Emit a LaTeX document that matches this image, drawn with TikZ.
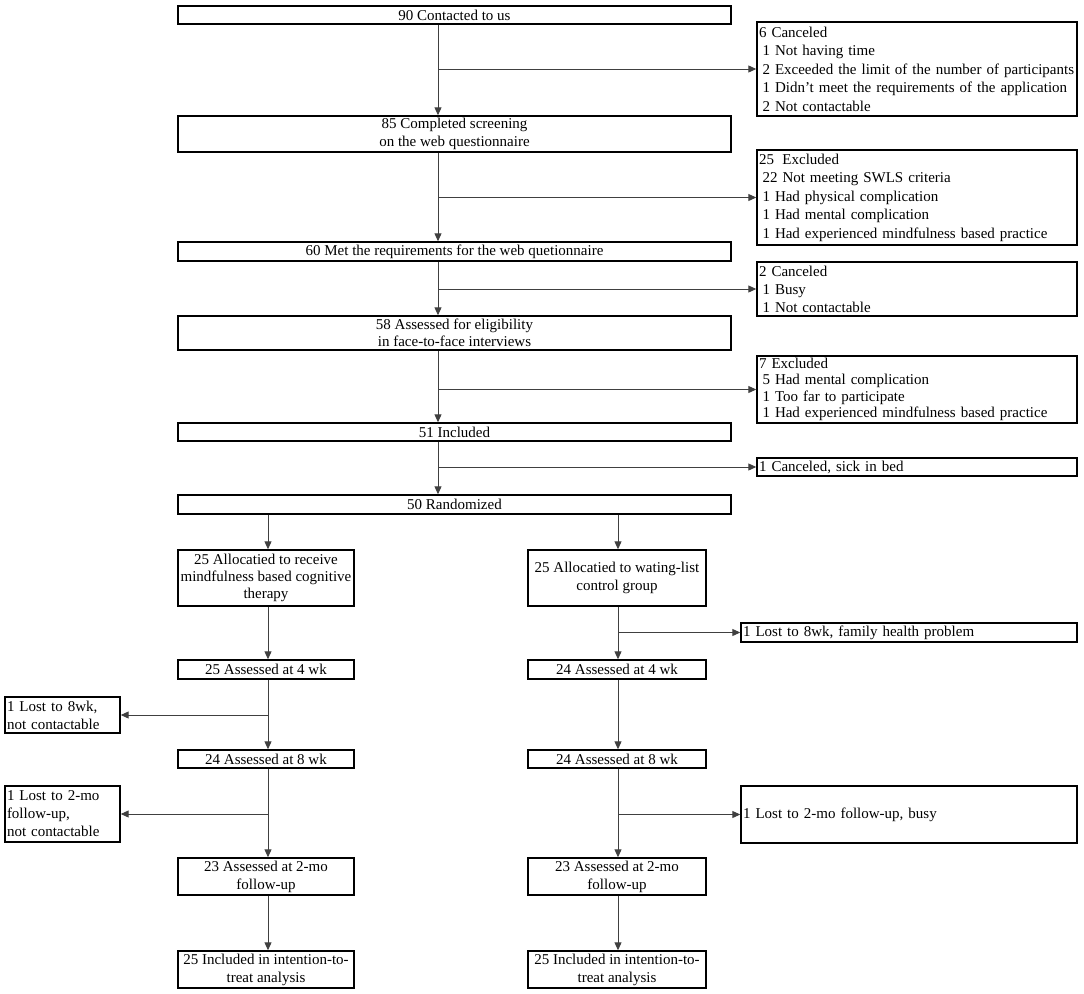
\documentclass[tikz,border=0pt]{standalone}
\usepackage{fontspec}
\setmainfont{Liberation Serif}
\usetikzlibrary{arrows.meta}
\tikzset{
  box/.style={draw, line width=1.4pt, inner sep=0pt, align=center, font=\fontsize{15}{18}\selectfont},
  lbox/.style={box, align=left, inner xsep=2pt, text width=#1},
  conn/.style={draw=black!75, line width=1pt, -{Triangle[length=8pt,width=7pt]}},
}
\begin{document}
\begin{tikzpicture}[x=1pt,y=-1pt]
\useasboundingbox (0,0) rectangle (1084,993);
\coordinate (sx) at (438,0);
\coordinate (lx) at (268,0);
\coordinate (rx) at (618,0);
% main column
\node[box, minimum width=553pt, minimum height=18pt] (b1) at (454.5,15) {90 Contacted to us};
\node[box, minimum width=553pt, minimum height=36pt] (b2) at (454.5,134) {85 Completed screening\\on the web questionnaire};
\node[box, minimum width=553pt, minimum height=19pt] (b3) at (454.5,251.5) {60 Met the requirements for the web quetionnaire};
\node[box, minimum width=553pt, minimum height=34pt, font=\fontsize{15}{17}\selectfont] (b4) at (454.5,333) {58 Assessed for eligibility\\in face-to-face interviews};
\node[box, minimum width=553pt, minimum height=18pt] (b5) at (454.5,432) {51 Included};
\node[box, minimum width=553pt, minimum height=19pt] (b6) at (454.5,504.5) {50 Randomized};
% right column
\node[lbox=316pt, minimum height=94pt, font=\fontsize{15}{18.5}\selectfont] (r1) at (917,69) {6 Canceled\\\hspace*{3.5pt}1 Not having time\\\hspace*{3.5pt}2 Exceeded the limit of the number of participants\\\hspace*{3.5pt}1 Didn't meet the requirements of the application\\\hspace*{3.5pt}2 Not contactable};
\node[lbox=316pt, minimum height=95pt, font=\fontsize{15}{18.5}\selectfont] (r2) at (917,197.5) {25\hspace*{3.5pt} Excluded\\\hspace*{3.5pt}22 Not meeting SWLS criteria\\\hspace*{3.5pt}1 Had physical complication\\\hspace*{3.5pt}1 Had mental complication\\\hspace*{3.5pt}1 Had experienced mindfulness based practice};
\node[lbox=316pt, minimum height=54pt, font=\fontsize{15}{18}\selectfont] (r3) at (917,289) {2 Canceled\\\hspace*{3.5pt}1 Busy\\\hspace*{3.5pt}1 Not contactable};
\node[lbox=316pt, minimum height=67pt, font=\fontsize{15}{16.5}\selectfont] (r4) at (917,389.5) {7 Excluded\\\hspace*{3.5pt}5 Had mental complication\\\hspace*{3.5pt}1 Too far to participate\\\hspace*{3.5pt}1 Had experienced mindfulness based practice};
\node[lbox=316pt, minimum height=18pt] (r5) at (917,467) {1 Canceled, sick in bed};
% arms
\node[box, minimum width=176pt, minimum height=56pt, font=\fontsize{15}{17}\selectfont] (la1) at (266,578) {25 Allocatied to receive\\mindfulness based cognitive\\therapy};
\node[box, minimum width=178pt, minimum height=56pt] (ra1) at (617,578) {25 Allocatied to wating-list\\control group};
\node[box, minimum width=176pt, minimum height=19pt] (la2) at (266,669.5) {25 Assessed at 4 wk};
\node[box, minimum width=178pt, minimum height=19pt] (ra2) at (617,669.5) {24 Assessed at 4 wk};
\node[box, minimum width=176pt, minimum height=18pt] (la3) at (266,759) {24 Assessed at 8 wk};
\node[box, minimum width=178pt, minimum height=18pt] (ra3) at (617,759) {24 Assessed at 8 wk};
\node[box, minimum width=176pt, minimum height=37pt] (la4) at (266,876.5) {23 Assessed at 2-mo\\follow-up};
\node[box, minimum width=178pt, minimum height=37pt] (ra4) at (617,876.5) {23 Assessed at 2-mo\\follow-up};
\node[box, minimum width=176pt, minimum height=37pt] (la5) at (266,969.5) {25 Included in intention-to-\\treat analysis};
\node[box, minimum width=178pt, minimum height=37pt] (ra5) at (617,969.5) {25 Included in intention-to-\\treat analysis};
% side boxes
\node[lbox=111pt, minimum height=36pt] (l1) at (62.5,715) {1 Lost to 8wk,\\not contactable};
\node[lbox=111pt, minimum height=56pt] (l2) at (62.5,814) {1 Lost to 2-mo\\follow-up,\\not contactable};
\node[lbox=332pt, minimum height=19pt] (f1) at (909,632.5) {1 Lost to 8wk, family health problem};
\node[lbox=332pt, minimum height=57pt] (f2) at (909,814.5) {1 Lost to 2-mo follow-up, busy};
% main spine
\draw[conn] (b1.south -| sx) -- (b2.north -| sx);
\draw[conn] (b2.south -| sx) -- (b3.north -| sx);
\draw[conn] (b3.south -| sx) -- (b4.north -| sx);
\draw[conn] (b4.south -| sx) -- (b5.north -| sx);
\draw[conn] (b5.south -| sx) -- (b6.north -| sx);
\draw[conn] (sx |- r1.west) -- (r1.west);
\draw[conn] (sx |- r2.west) -- (r2.west);
\draw[conn] (sx |- r3.west) -- (r3.west);
\draw[conn] (sx |- r4.west) -- (r4.west);
\draw[conn] (sx |- r5.west) -- (r5.west);
% left arm
\draw[conn] (b6.south -| lx) -- (la1.north -| lx);
\draw[conn] (la1.south -| lx) -- (la2.north -| lx);
\draw[conn] (la2.south -| lx) -- (la3.north -| lx);
\draw[conn] (la3.south -| lx) -- (la4.north -| lx);
\draw[conn] (la4.south -| lx) -- (la5.north -| lx);
\draw[conn] (lx |- l1.east) -- (l1.east);
\draw[conn] (lx |- l2.east) -- (l2.east);
% right arm
\draw[conn] (b6.south -| rx) -- (ra1.north -| rx);
\draw[conn] (ra1.south -| rx) -- (ra2.north -| rx);
\draw[conn] (ra2.south -| rx) -- (ra3.north -| rx);
\draw[conn] (ra3.south -| rx) -- (ra4.north -| rx);
\draw[conn] (ra4.south -| rx) -- (ra5.north -| rx);
\draw[conn] (rx |- f1.west) -- (f1.west);
\draw[conn] (rx |- f2.west) -- (f2.west);
\end{tikzpicture}
\end{document}
